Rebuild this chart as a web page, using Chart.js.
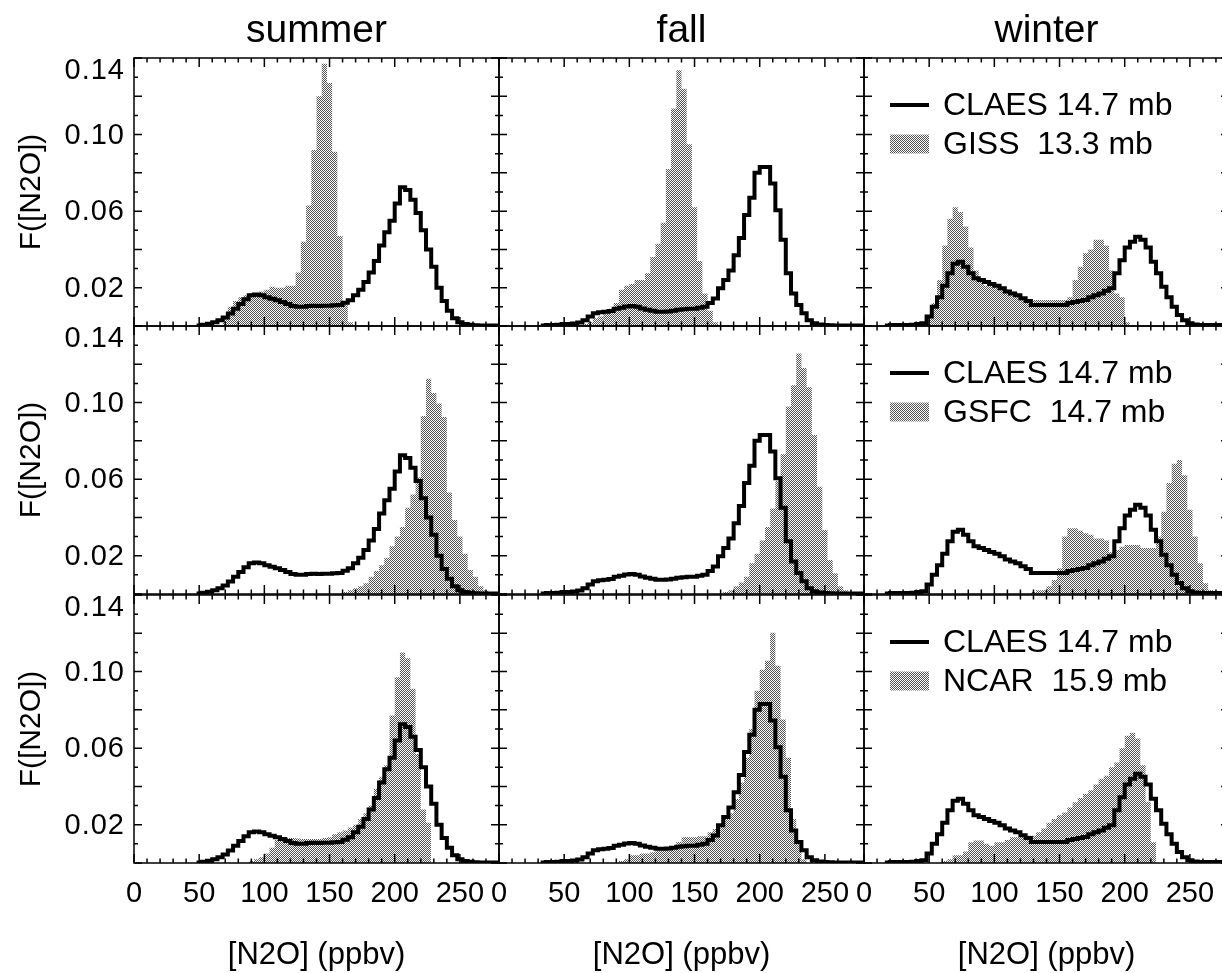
<!DOCTYPE html>
<html>
<head>
<meta charset="utf-8">
<title>N2O frequency distributions</title>
<script src="https://cdn.jsdelivr.net/npm/chart.js@4.4.1/dist/chart.umd.min.js"></script>
<style>
  html, body { margin: 0; padding: 0; background: #fff; }
  body { width: 1222px; height: 973px; overflow: hidden; position: relative; }
  canvas { position: absolute; }
</style>
</head>
<body>
<script>
// Seasons (columns) and model comparisons (rows)
const SEASONS = ['summer', 'fall', 'winter'];
const CLAES_LABEL = 'CLAES 14.7 mb';
const MODEL_LABELS = ['GISS  13.3 mb', 'GSFC  14.7 mb', 'NCAR  15.9 mb'];

// Axis ticks and ranges
const X_TICK_LABELS = [0, 50, 100, 150, 200, 250];
const Y_TICK_LABELS = [0.02, 0.06, 0.10, 0.14];
const X_RANGE = [0, 280];
const Y_RANGE = [0, 0.14];

// Frequency histograms, 4 ppbv bins; *_START is the left edge of the first bin
const BIN_WIDTH = 4;

const CLAES_SUMMER_START = 48;
const CLAES_SUMMER = [.0003,.0006,.0012,.002,.003,.0045,.0065,.009,.0115,.014,.016,.0165,.016,.015,.0142,.0135,.0125,.0115,.0105,.010,.010,.0104,.0106,.0104,.0106,.0106,.0108,.011,.0122,.0135,.016,.019,.023,.028,.034,.042,.049,.055,.064,.0725,.071,.066,.059,.050,.040,.031,.020,.013,.008,.004,.002,.001,.0006,.0004,.0003,.0003,.0003,.0003];

const CLAES_FALL_START = 32;
const CLAES_FALL = [.0003,.0005,.0005,.0006,.001,.001,.0013,.0018,.003,.005,.0066,.0072,.0075,.0078,.009,.0095,.0102,.0104,.010,.0092,.0085,.008,.0075,.0075,.0076,.008,.0085,.0088,.009,.009,.0095,.010,.012,.0144,.0197,.024,.029,.037,.046,.058,.067,.080,.083,.083,.0745,.0605,.045,.0275,.017,.011,.0066,.003,.0014,.0008,.0005,.0004,.0003,.0003,.0003,.0003,.0003,.0003];

const CLAES_WINTER_START = 16;
const CLAES_WINTER = [.0003,.0005,.0005,.0005,.0005,.0007,.001,.0015,.005,.010,.015,.021,.0275,.0325,.0335,.031,.0275,.025,.024,.023,.022,.021,.0197,.018,.017,.016,.0145,.013,.011,.011,.011,.011,.011,.011,.011,.012,.0125,.013,.0136,.015,.016,.017,.0184,.0197,.0275,.0344,.041,.044,.0466,.045,.041,.0336,.0275,.0205,.015,.010,.0057,.003,.0014,.0008,.0005,.0005,.0005,.0005,.0005,.0005];

const GISS_SUMMER_START = 68;
const GISS_SUMMER = [.004,.010,.013,.015,.016,.017,.017,.018,.019,.0205,.020,.020,.021,.021,.028,.044,.063,.092,.12,.137,.127,.091,.047,.012,.002];

const GISS_FALL_START = 64;
const GISS_FALL = [.001,.002,.004,.005,.007,.009,.012,.019,.021,.022,.024,.024,.0275,.036,.043,.054,.082,.1136,.1336,.124,.095,.062,.034,.017,.008,.002];

const GISS_WINTER_START = 48;
const GISS_WINTER = [.004,.012,.024,.042,.056,.062,.0596,.052,.041,.029,.023,.021,.022,.022,.0205,.019,.018,.017,.015,.014,.0136,.0136,.0136,.0136,.0136,.0136,.0136,.015,.024,.031,.038,.040,.045,.045,.042,.029,.017,.015,.002];

const GSFC_SUMMER_START = 160;
const GSFC_SUMMER = [.001,.002,.003,.004,.0056,.009,.012,.015,.019,.025,.030,.035,.045,.052,.061,.093,.1125,.105,.0995,.0925,.053,.0386,.030,.021,.0125,.009,.004,.002];

const GSFC_FALL_START = 172;
const GSFC_FALL = [.001,.002,.004,.006,.009,.016,.021,.028,.035,.0447,.059,.073,.098,.109,.1256,.118,.108,.083,.056,.0334,.0177,.0108,.004,.002];

const GSFC_WINTER_START = 128;
const GSFC_WINTER = [.001,.002,.002,.004,.0073,.0134,.030,.0343,.0343,.033,.0317,.031,.029,.029,.028,.022,.023,.0247,.0256,.0256,.0256,.024,.024,.024,.030,.043,.058,.068,.070,.062,.044,.030,.016,.0056,.002];

const NCAR_SUMMER_START = 88;
const NCAR_SUMMER = [.001,.002,.003,.005,.008,.012,.013,.013,.013,.0128,.0125,.0125,.0125,.0125,.013,.0135,.015,.016,.017,.0186,.020,.023,.026,.030,.0386,.045,.051,.077,.097,.110,.107,.091,.057,.028,.021];

const NCAR_FALL_START = 92;
const NCAR_FALL = [.001,.002,.004,.004,.005,.005,.0056,.0065,.008,.008,.0085,.011,.0134,.0134,.0134,.014,.014,.016,.0177,.020,.023,.026,.0334,.042,.055,.070,.090,.101,.1056,.1203,.103,.075,.055,.023,.0108,.002];

const NCAR_WINTER_START = 60;
const NCAR_WINTER = [.001,.002,.004,.004,.006,.0108,.0117,.0117,.010,.009,.0108,.0108,.012,.0134,.0134,.014,.0143,.0143,.016,.018,.021,.023,.025,.0264,.029,.0317,.034,.036,.038,.041,.044,.0456,.050,.0525,.060,.0665,.068,.065,.051,.032,.0108];

const CLAES = [
  { start: CLAES_SUMMER_START, values: CLAES_SUMMER },
  { start: CLAES_FALL_START, values: CLAES_FALL },
  { start: CLAES_WINTER_START, values: CLAES_WINTER }
];
const MODELS = [
  [{ start: GISS_SUMMER_START, values: GISS_SUMMER }, { start: GISS_FALL_START, values: GISS_FALL }, { start: GISS_WINTER_START, values: GISS_WINTER }],
  [{ start: GSFC_SUMMER_START, values: GSFC_SUMMER }, { start: GSFC_FALL_START, values: GSFC_FALL }, { start: GSFC_WINTER_START, values: GSFC_WINTER }],
  [{ start: NCAR_SUMMER_START, values: NCAR_SUMMER }, { start: NCAR_FALL_START, values: NCAR_FALL }, { start: NCAR_WINTER_START, values: NCAR_WINTER }]
];

// Page layout of the 3x3 grid of plot frames
const COL_LEFT = [134, 499, 864];
const ROW_TOP = [58, 326, 595];
const PANEL_W = 365;
const PANEL_H = 268;

const FONT = '"Liberation Sans", Arial, Helvetica, sans-serif';

// Fine dotted grey fill used for the model histograms
const tile = document.createElement('canvas');
tile.width = 2; tile.height = 2;
(function () {
  const g = tile.getContext('2d');
  g.fillStyle = '#fbfbfb'; g.fillRect(0, 0, 2, 2);
  g.fillStyle = '#545454'; g.fillRect(0, 0, 1, 1); g.fillRect(1, 1, 1, 1);
})();

// Left bin edges as step points, with a closing point at the right edge
function stepPoints(series, dropToZero) {
  const pts = series.values.map((v, i) => ({ x: series.start + i * BIN_WIDTH, y: v }));
  const last = series.values[series.values.length - 1];
  pts.push({ x: series.start + series.values.length * BIN_WIDTH, y: dropToZero ? 0 : last });
  return pts;
}

// Frame with inward ticks on all four sides, tick labels, titles and legend
const panelDecor = {
  id: 'panelDecor',
  afterDatasetsDraw(chart, args, o) {
    const { ctx, chartArea: a } = chart;
    const xs = chart.scales.x, ys = chart.scales.y;
    ctx.save();
    ctx.strokeStyle = '#000';
    ctx.fillStyle = '#000';
    ctx.lineWidth = 1.5;
    ctx.lineCap = 'butt';

    ctx.beginPath();
    for (let v = X_RANGE[0]; v <= X_RANGE[1]; v += 10) {
      const px = xs.getPixelForValue(v);
      const len = v % 50 === 0 ? 9 : 4.5;
      ctx.moveTo(px, a.bottom); ctx.lineTo(px, a.bottom - len);
      ctx.moveTo(px, a.top); ctx.lineTo(px, a.top + len);
    }
    for (let k = 0; k <= 14; k++) {
      const py = ys.getPixelForValue(k / 100);
      const len = k % 2 === 0 ? 8 : 4;
      ctx.moveTo(a.left, py); ctx.lineTo(a.left + len, py);
      ctx.moveTo(a.right, py); ctx.lineTo(a.right - len, py);
    }
    ctx.stroke();
    ctx.strokeRect(a.left, a.top, a.right - a.left, a.bottom - a.top);

    if (o.yLabels) {
      ctx.font = '29px ' + FONT;
      ctx.letterSpacing = '1px';
      ctx.textAlign = 'right';
      Y_TICK_LABELS.forEach(v => {
        const py = ys.getPixelForValue(v);
        if (v >= Y_RANGE[1]) {
          ctx.textBaseline = 'top';
          ctx.fillText(v.toFixed(2), a.left - 9, a.top - 2);
        } else {
          ctx.textBaseline = 'middle';
          ctx.fillText(v.toFixed(2), a.left - 9, py + 1);
        }
      });
      ctx.letterSpacing = '0px';
      ctx.save();
      ctx.font = '30px ' + FONT;
      ctx.translate(39.5, (a.top + a.bottom) / 2);
      ctx.rotate(-Math.PI / 2);
      ctx.textAlign = 'center';
      ctx.textBaseline = 'alphabetic';
      ctx.fillText('F([N2O])', 0, 0);
      ctx.restore();
    }

    if (o.xLabels) {
      ctx.font = '29px ' + FONT;
      ctx.textAlign = 'center';
      ctx.textBaseline = 'middle';
      X_TICK_LABELS.forEach(v => ctx.fillText(String(v), xs.getPixelForValue(v), a.bottom + 31));
      ctx.font = '31px ' + FONT;
      ctx.textBaseline = 'alphabetic';
      ctx.fillText('[N2O] (ppbv)', (a.left + a.right) / 2, a.bottom + 101);
    }

    if (o.title) {
      ctx.font = '39px ' + FONT;
      ctx.textAlign = 'center';
      ctx.textBaseline = 'alphabetic';
      ctx.fillText(o.title, (a.left + a.right) / 2, a.top - 16);
    }

    if (o.legend) {
      const lx = a.left + 26, lw = 39, tx = a.left + 79;
      ctx.lineWidth = 4;
      ctx.beginPath();
      ctx.moveTo(lx, a.top + 47); ctx.lineTo(lx + lw, a.top + 47);
      ctx.stroke();
      ctx.fillStyle = ctx.createPattern(tile, 'repeat');
      ctx.fillRect(lx, a.top + 76.5, lw, 19);
      ctx.fillStyle = '#000';
      ctx.font = '32px ' + FONT;
      ctx.textAlign = 'left';
      ctx.textBaseline = 'alphabetic';
      ctx.fillText(CLAES_LABEL, tx, a.top + 57);
      ctx.fillText(o.legend, tx, a.top + 95.5);
    }
    ctx.restore();
  }
};

for (let r = 0; r < 3; r++) {
  for (let c = 0; c < 3; c++) {
    const pad = {
      left: c === 0 ? COL_LEFT[0] : 8,
      right: 8,
      top: r === 0 ? ROW_TOP[0] : 8,
      bottom: r === 2 ? 110 : 8
    };
    const canvas = document.createElement('canvas');
    const w = PANEL_W + pad.left + pad.right;
    const h = PANEL_H + pad.top + pad.bottom;
    canvas.width = w; canvas.height = h;
    canvas.style.width = w + 'px'; canvas.style.height = h + 'px';
    canvas.style.left = (COL_LEFT[c] - pad.left) + 'px';
    canvas.style.top = (ROW_TOP[r] - pad.top) + 'px';
    document.body.appendChild(canvas);
    const stipple = canvas.getContext('2d').createPattern(tile, 'repeat');

    new Chart(canvas, {
      type: 'line',
      data: {
        datasets: [
          {
            label: CLAES_LABEL,
            data: stepPoints(CLAES[c], false),
            borderColor: '#000',
            borderWidth: 4,
            borderJoinStyle: 'miter',
            borderCapStyle: 'butt',
            stepped: true,
            fill: false,
            pointRadius: 0,
            order: 0
          },
          {
            label: MODEL_LABELS[r],
            data: stepPoints(MODELS[r][c], true),
            backgroundColor: stipple,
            borderColor: 'rgba(0,0,0,0)',
            borderWidth: 0,
            stepped: true,
            fill: 'origin',
            pointRadius: 0,
            order: 1
          }
        ]
      },
      options: {
        responsive: false,
        animation: false,
        devicePixelRatio: 1,
        events: [],
        layout: { padding: pad },
        scales: {
          x: { type: 'linear', min: X_RANGE[0], max: X_RANGE[1], display: false },
          y: { type: 'linear', min: Y_RANGE[0], max: Y_RANGE[1], display: false }
        },
        plugins: {
          legend: { display: false },
          tooltip: { enabled: false },
          panelDecor: {
            yLabels: c === 0,
            xLabels: r === 2,
            title: r === 0 ? SEASONS[c] : null,
            legend: c === 2 ? MODEL_LABELS[r] : null
          }
        }
      },
      plugins: [panelDecor]
    });
  }
}
</script>
</body>
</html>
